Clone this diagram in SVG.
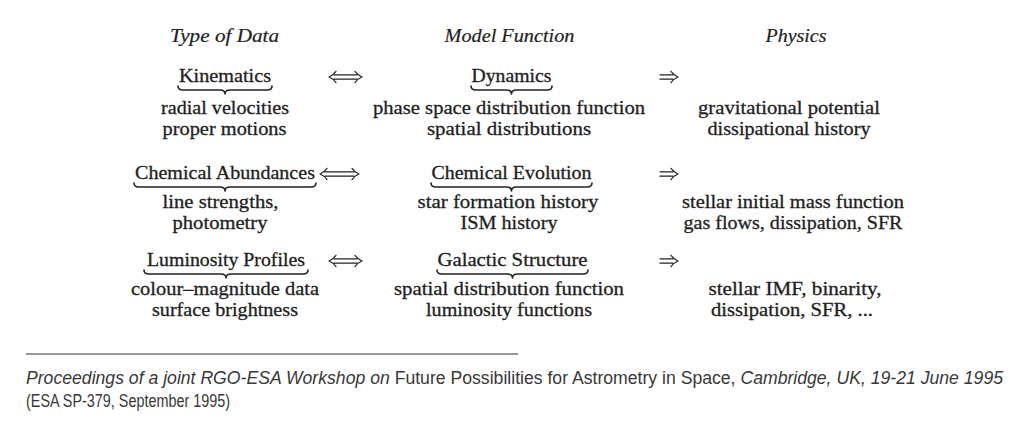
<svg xmlns="http://www.w3.org/2000/svg" width="1011" height="424" viewBox="0 0 1011 424">
<style>
.hdr{font-family:"Liberation Serif",serif;font-style:italic;font-size:19px;fill:#1e1e1e;stroke:#1e1e1e;stroke-width:0.2;text-anchor:middle}
.lbl,.txt{font-family:"Liberation Serif",serif;font-size:19px;fill:#1e1e1e;stroke:#1e1e1e;stroke-width:0.3;text-anchor:middle}
.foot{font-family:"Liberation Sans Narrow","Liberation Sans",sans-serif;font-size:17.5px;fill:#383838}
.it{font-style:italic}
.brace{fill:none;stroke:#222;stroke-width:1.6;stroke-linecap:round;stroke-linejoin:round}
.arr{fill:none;stroke:#222;stroke-width:1.2;stroke-linecap:round;stroke-linejoin:round}
.rule{stroke:#333;stroke-width:1}
</style>
<rect width="1011" height="424" fill="#fff"/>
<g id="headers">
<text class="hdr" x="224.5" y="42" textLength="109" lengthAdjust="spacingAndGlyphs">Type of Data</text>
<text class="hdr" x="509.5" y="42" textLength="130" lengthAdjust="spacingAndGlyphs">Model Function</text>
<text class="hdr" x="796" y="42" textLength="61" lengthAdjust="spacingAndGlyphs">Physics</text>
</g>
<g id="kinematics">
<text class="lbl" x="225" y="82" textLength="92" lengthAdjust="spacingAndGlyphs">Kinematics</text>
<path class="brace" d="M178,86 Q178,90 183,90 L220,90 Q225,90 225,94 Q225,90 230,90 L267,90 Q272,90 272,86"/>
<text class="txt" x="225" y="113.5" textLength="128" lengthAdjust="spacingAndGlyphs">radial velocities</text>
<text class="txt" x="224.5" y="135" textLength="124" lengthAdjust="spacingAndGlyphs">proper motions</text>
</g>
<g id="dynamics">
<text class="lbl" x="511.5" y="82" textLength="80" lengthAdjust="spacingAndGlyphs">Dynamics</text>
<path class="brace" d="M471,86 Q471,90 476,90 L506.5,90 Q511.5,90 511.5,94 Q511.5,90 516.5,90 L547,90 Q552,90 552,86"/>
<text class="txt" x="509" y="113.5" textLength="272" lengthAdjust="spacingAndGlyphs">phase space distribution function</text>
<text class="txt" x="509" y="135" textLength="164" lengthAdjust="spacingAndGlyphs">spatial distributions</text>
</g>
<g id="potential">
<text class="txt" x="789" y="113.5" textLength="182" lengthAdjust="spacingAndGlyphs">gravitational potential</text>
<text class="txt" x="789" y="135" textLength="163" lengthAdjust="spacingAndGlyphs">dissipational history</text>
</g>
<g id="chem-abund">
<text class="lbl" x="225" y="179" textLength="180" lengthAdjust="spacingAndGlyphs">Chemical Abundances</text>
<path class="brace" d="M134,183 Q134,187 139,187 L220,187 Q225,187 225,191 Q225,187 230,187 L311,187 Q316,187 316,183"/>
<text class="txt" x="220.5" y="207.5" textLength="116" lengthAdjust="spacingAndGlyphs">line strengths,</text>
<text class="txt" x="220" y="229" textLength="95" lengthAdjust="spacingAndGlyphs">photometry</text>
</g>
<g id="chem-evol">
<text class="lbl" x="511.5" y="179" textLength="160" lengthAdjust="spacingAndGlyphs">Chemical Evolution</text>
<path class="brace" d="M431,183 Q431,187 436,187 L506.5,187 Q511.5,187 511.5,191 Q511.5,187 516.5,187 L587,187 Q592,187 592,183"/>
<text class="txt" x="508" y="207.5" textLength="181" lengthAdjust="spacingAndGlyphs">star formation history</text>
<text class="txt" x="509" y="229" textLength="97" lengthAdjust="spacingAndGlyphs">ISM history</text>
</g>
<g id="stellar-imf">
<text class="txt" x="793" y="207.5" textLength="222" lengthAdjust="spacingAndGlyphs">stellar initial mass function</text>
<text class="txt" x="793" y="229" textLength="219" lengthAdjust="spacingAndGlyphs">gas flows, dissipation, SFR</text>
</g>
<g id="lum-prof">
<text class="lbl" x="226" y="266" textLength="158" lengthAdjust="spacingAndGlyphs">Luminosity Profiles</text>
<path class="brace" d="M144,270 Q144,274 149,274 L221,274 Q226,274 226,278 Q226,274 231,274 L303,274 Q308,274 308,270"/>
<text class="txt" x="225" y="294.5" textLength="188" lengthAdjust="spacingAndGlyphs">colour–magnitude data</text>
<text class="txt" x="225" y="316" textLength="146" lengthAdjust="spacingAndGlyphs">surface brightness</text>
</g>
<g id="gal-struct">
<text class="lbl" x="512.5" y="266" textLength="150" lengthAdjust="spacingAndGlyphs">Galactic Structure</text>
<path class="brace" d="M437,270 Q437,274 442,274 L507.5,274 Q512.5,274 512.5,278 Q512.5,274 517.5,274 L583,274 Q588,274 588,270"/>
<text class="txt" x="509" y="294.5" textLength="230" lengthAdjust="spacingAndGlyphs">spatial distribution function</text>
<text class="txt" x="509" y="316" textLength="166" lengthAdjust="spacingAndGlyphs">luminosity functions</text>
</g>
<g id="binarity">
<text class="txt" x="795" y="294.5" textLength="173" lengthAdjust="spacingAndGlyphs">stellar IMF, binarity,</text>
<text class="txt" x="792" y="316" textLength="162" lengthAdjust="spacingAndGlyphs">dissipation, SFR, ...</text>
</g>
<g id="connectors">
<path class="arr" d="M334,74.8 L357,74.8 M334,79.2 L357,79.2 M336,71.3 Q333,75.5 329,77 Q333,78.5 336,82.7 M355,71.3 Q358,75.5 362,77 Q358,78.5 355,82.7"/>
<path class="arr" d="M325,171.8 L354,171.8 M325,176.2 L354,176.2 M327,168.3 Q324,172.5 320,174 Q324,175.5 327,179.7 M352,168.3 Q355,172.5 359,174 Q355,175.5 352,179.7"/>
<path class="arr" d="M334,258.8 L357,258.8 M334,263.2 L357,263.2 M336,255.3 Q333,259.5 329,261 Q333,262.5 336,266.7 M355,255.3 Q358,259.5 362,261 Q358,262.5 355,266.7"/>
<path class="arr" d="M660,74.8 L673,74.8 M660,79.2 L673,79.2 M671,71.3 Q674,75.5 678,77 Q674,78.5 671,82.7"/>
<path class="arr" d="M660,171.8 L673,171.8 M660,176.2 L673,176.2 M671,168.3 Q674,172.5 678,174 Q674,175.5 671,179.7"/>
<path class="arr" d="M660,258.8 L673,258.8 M660,263.2 L673,263.2 M671,255.3 Q674,259.5 678,261 Q674,262.5 671,266.7"/>
</g>
<g id="footnote">
<line class="rule" x1="26" y1="354" x2="518" y2="354"/>
<text class="foot" x="26" y="384" textLength="977" lengthAdjust="spacingAndGlyphs"><tspan class="it">Proceedings of a joint RGO-ESA Workshop on</tspan> Future Possibilities for Astrometry in Space, <tspan class="it">Cambridge, UK, 19-21 June 1995</tspan></text>
<text class="foot" x="26" y="407" textLength="204" lengthAdjust="spacingAndGlyphs">(ESA SP-379, September 1995)</text>
</g>
</svg>
